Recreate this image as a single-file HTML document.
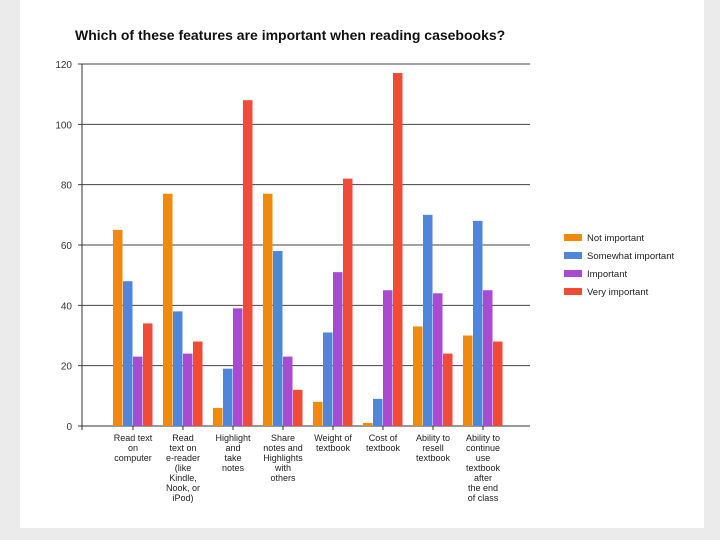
<!DOCTYPE html>
<html><head><meta charset="utf-8"><style>
body{margin:0;width:720px;height:540px;background:#ebebeb;font-family:"Liberation Sans",sans-serif;overflow:hidden}
#card{position:absolute;left:20px;top:0;width:684px;height:528px;background:#fff}
</style></head><body>
<div id="card"></div>
<svg id="chart" width="720" height="540" style="position:absolute;left:0;top:0">
<text x="75" y="40" font-size="14" font-weight="bold" fill="#111">Which of these features are important when reading casebooks?</text>
</svg>
<script>
const categories=[["Read text","on","computer"],["Read","text on","e-reader","(like","Kindle,","Nook, or","iPod)"],["Highlight","and","take","notes"],["Share","notes and","Highlights","with","others"],["Weight of","textbook"],["Cost of","textbook"],["Ability to","resell","textbook"],["Ability to","continue","use","textbook","after","the end","of class"]];
const notImportant=[65,77,6,77,8,1,33,30];
const somewhatImportant=[48,38,19,58,31,9,70,68];
const important=[23,24,39,23,51,45,44,45];
const veryImportant=[34,28,108,12,82,117,24,28];
const seriesNames=["Not important","Somewhat important","Important","Very important"];
const yTicks=[0,20,40,60,80,100,120];
const colors=["#f08a0c","#4f86dc","#a94bd0","#ef4b36"];
const series=[notImportant,somewhatImportant,important,veryImportant];
const svg=document.getElementById('chart');const NS="http://www.w3.org/2000/svg";
const x0=82,x1=530,yTop=64,yBot=426,yMax=120;
const y=v=>yBot-(v/yMax)*(yBot-yTop);
const gx=i=>113+i*50;
function mk(t,a){const e=document.createElementNS(NS,t);for(const k in a)e.setAttribute(k,a[k]);svg.appendChild(e);return e;}
yTicks.forEach(t=>{
 const g=mk('line',{x1:x0-4,x2:x1,y1:y(t),y2:y(t),stroke:t===0?'#333':'#444','stroke-width':1});
 
 
 const l=mk('text',{x:72,y:y(t)+4,'font-size':10,'text-anchor':'end',fill:'#333'});l.textContent=t;
 
 
});
const ax=mk('line',{x1:x0,x2:x0,y1:yTop,y2:yBot+4,stroke:'#333'});


categories.forEach((c,i)=>{
 series.forEach((s,j)=>{
  const r=mk('rect',{x:gx(i)+j*10,y:y(s[i]),width:9.5,height:yBot-y(s[i]),fill:colors[j]});
  
  
 });
 const cx=gx(i)+20;
 mk('line',{x1:cx,x2:cx,y1:yBot,y2:yBot+4,stroke:'#333'});
 c.forEach((ln,k)=>{const t=mk('text',{x:cx,y:yBot+15+k*10,'font-size':9,'text-anchor':'middle',fill:'#222'});t.textContent=ln;
  
  });
});
seriesNames.forEach((n,j)=>{
 const yy=238+j*18;
 const r=mk('rect',{x:564,y:yy-4,width:18,height:7,fill:colors[j]});
 
 
 const t=mk('text',{x:587,y:yy+3,'font-size':9.5,fill:'#222'});t.textContent=n;
 
 
});
</script>
</body></html>
